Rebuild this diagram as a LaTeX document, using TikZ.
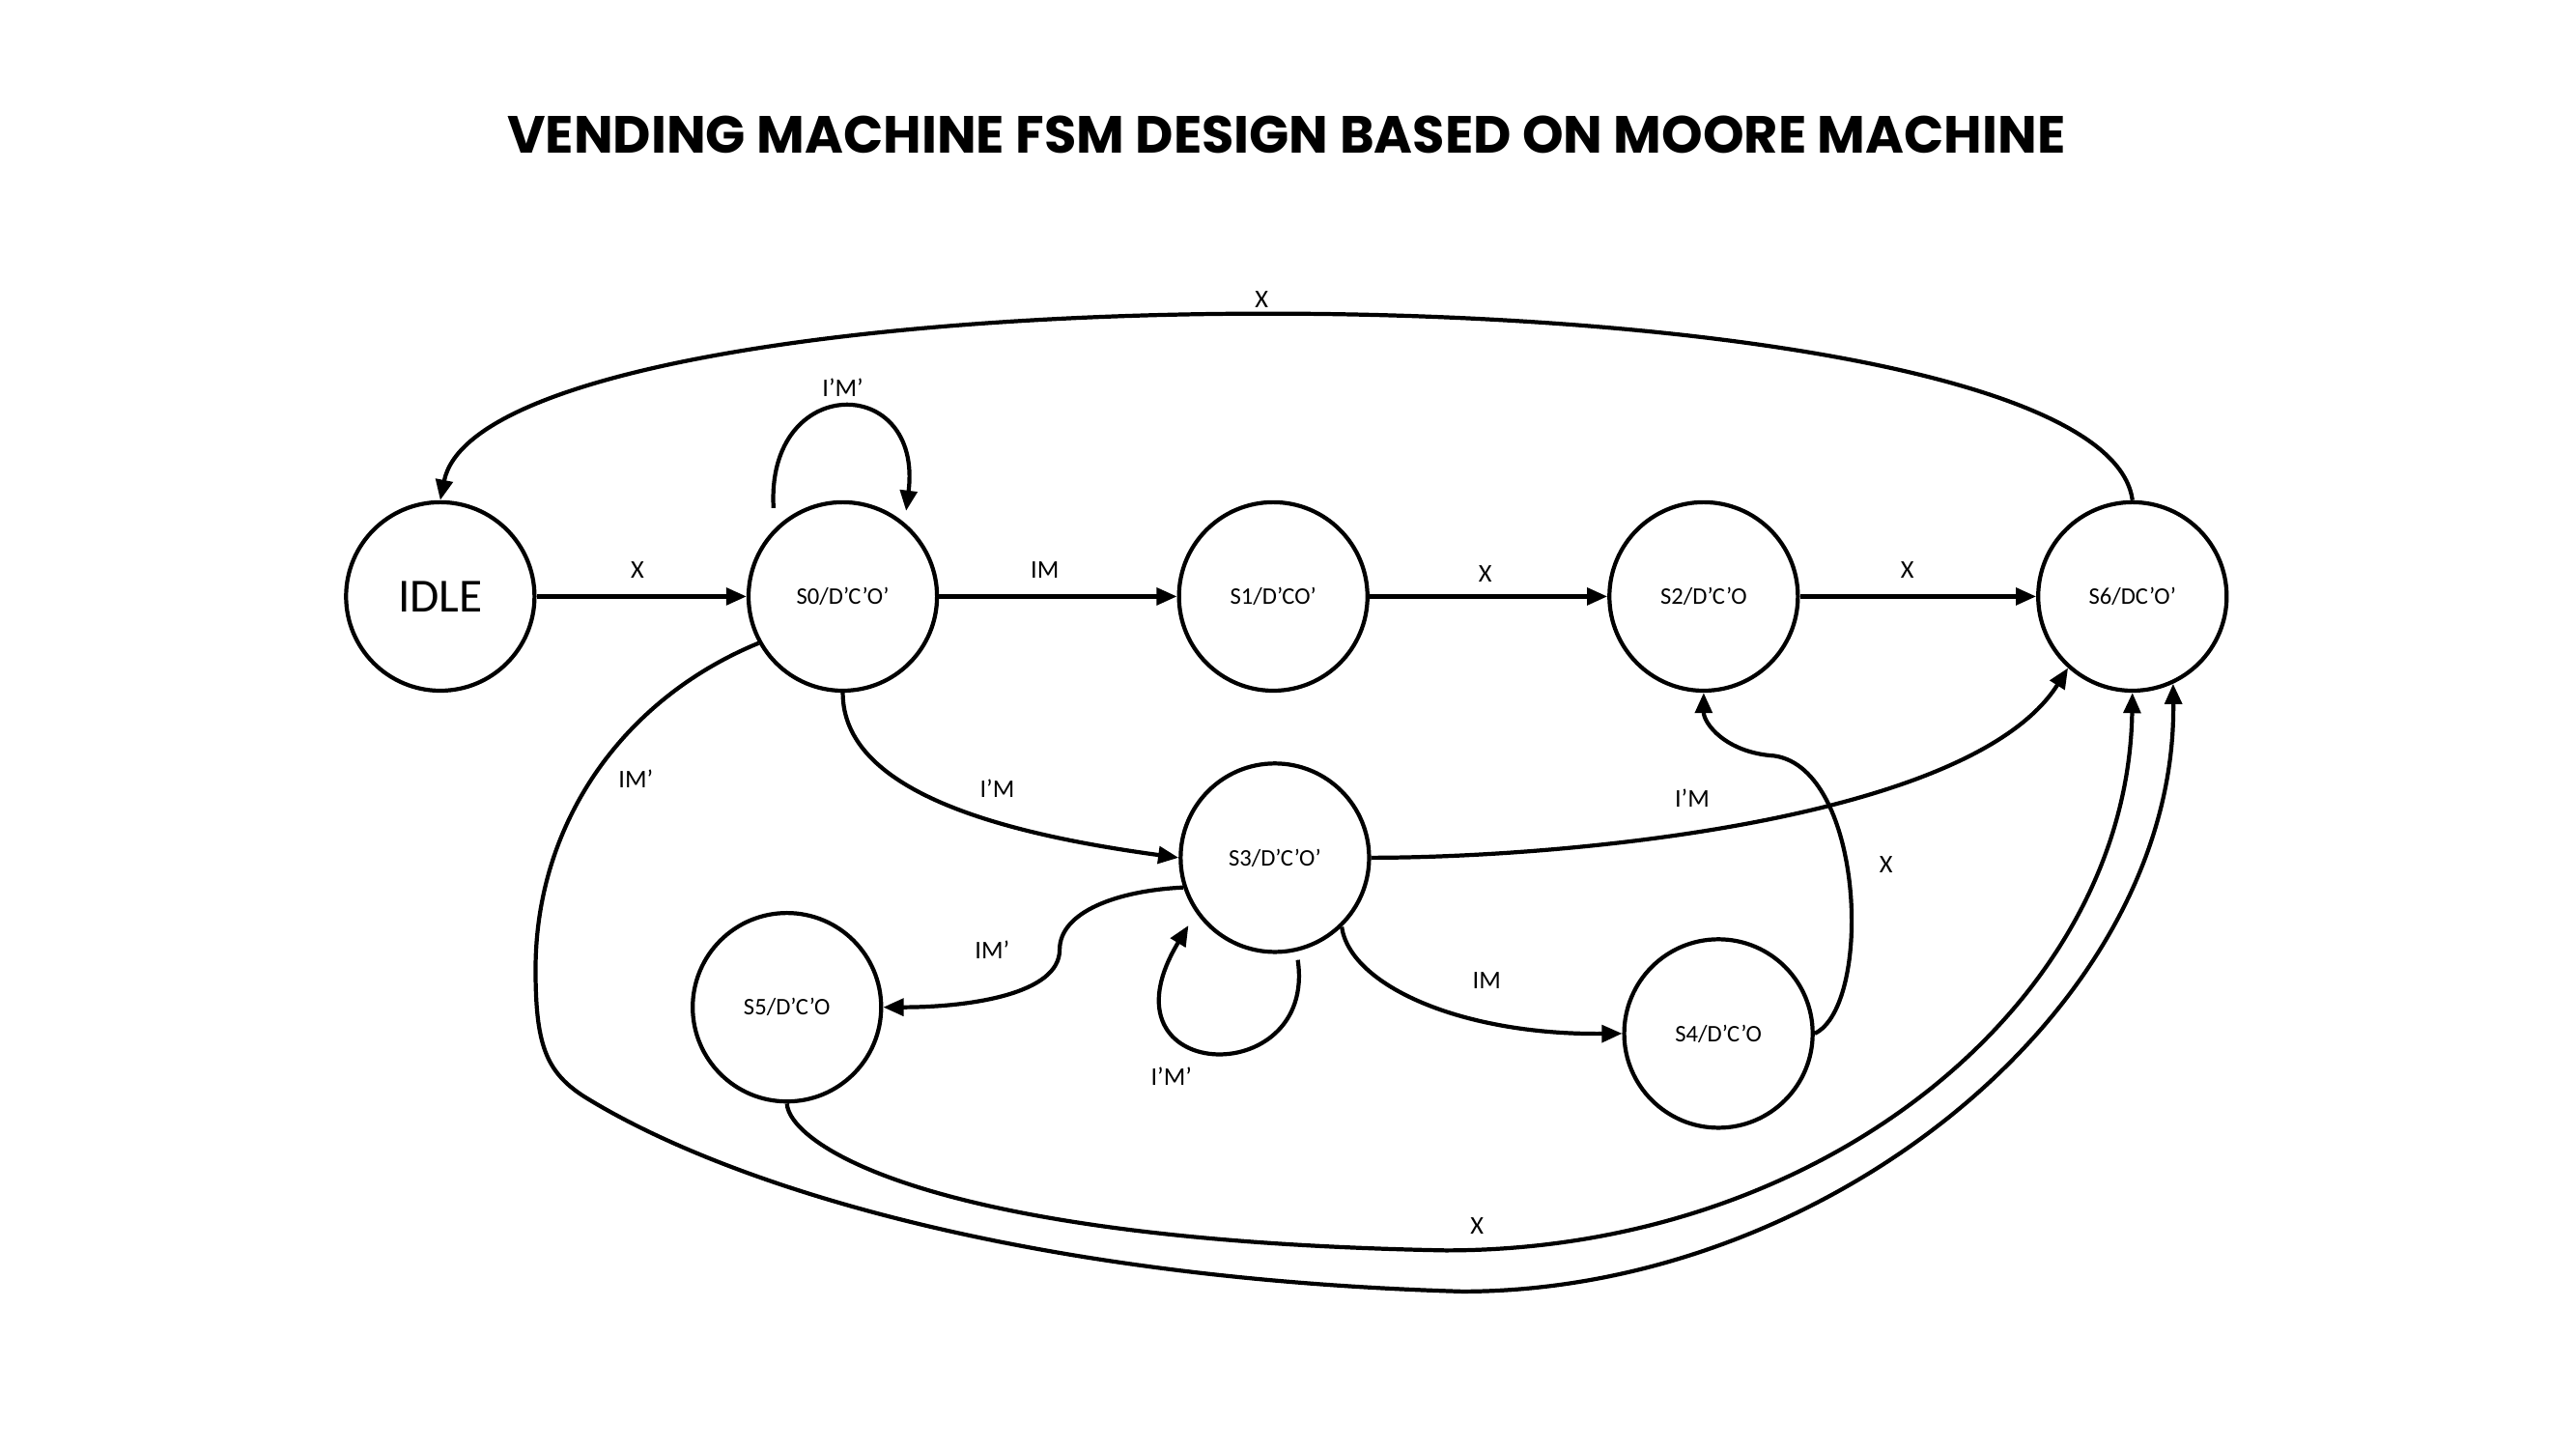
\documentclass[tikz,border=0pt]{standalone}
\usepackage{fontspec}
\setmainfont{Carlito}
\newfontfamily\titlefont{Poppins}
\usetikzlibrary{arrows.meta}
\tikzset{
  state/.style={circle,draw,line width=1.2pt,minimum size=1.95cm,inner sep=0pt,font=\fontsize{7}{8}\selectfont},
  lbl/.style={font=\fontsize{7.5}{9}\selectfont,inner sep=0pt},
  trans/.style={line width=1.2pt,-{Triangle[length=6pt,width=5pt]}}
}
\begin{document}
\begin{tikzpicture}[x=0.017cm,y=-0.017cm]
\useasboundingbox (0,0) rectangle (1568,882);
\node[font=\titlefont\bfseries\fontsize{15.4}{17}\selectfont] (title) at (783,82) {VENDING MACHINE FSM DESIGN BASED ON MOORE MACHINE};

% states
\node[state,font=\fontsize{14}{16}\selectfont] (idle) at (268,363) {IDLE};
\node[state] (s0) at (513,363) {S0/D’C’O’};
\node[state] (s1) at (775,363) {S1/D’CO’};
\node[state] (s2) at (1037,363) {S2/D’C’O};
\node[state] (s6) at (1298,363) {S6/DC’O’};
\node[state] (s3) at (776,522) {S3/D’C’O’};
\node[state] (s5) at (479,613) {S5/D’C’O};
\node[state] (s4) at (1046,629) {S4/D’C’O};

% top row
\draw[trans] (idle) -- (s0);
\draw[trans] (s0) -- (s1);
\draw[trans] (s1) -- (s2);
\draw[trans] (s2) -- (s6);
\node[lbl] (xidle) at (388,347) {X};
\node[lbl] (im01) at (636,347) {IM};
\node[lbl] (x12) at (904,349) {X};
\node[lbl] (x26) at (1161,347) {X};

% back to idle
\draw[trans] (s6.north) .. controls (1278,155) and (298,155) .. (idle.north);
\node[lbl] (x60) at (768,182) {X};

% self loops
\draw[trans,shorten <=6pt,shorten >=3.5pt] (s0.135) .. controls (466,227) and (562,227) .. (s0.50);
\node[lbl] (loop0) at (513,236) {I’M’};
\draw[trans,shorten <=2.5pt,shorten >=4.3pt] (s3.283) .. controls (802,665) and (665,660) .. (s3.215);
\node[lbl] (loop3) at (713,655) {I’M’};

% middle
\draw[trans] (s0.south) .. controls (513,481) and (607,507) .. (s3.west);
\node[lbl] (im03) at (607,480) {I’M};
\draw[trans] (s3.east) .. controls (950,522) and (1200,500) .. (s6.228);
\node[lbl] (im36) at (1030,486) {I’M};
\draw[trans] (s3.314) .. controls (822,600) and (890,630) .. (s4.west);
\node[lbl] (im34) at (905,597) {IM};
\draw[trans] (s3.198) .. controls (680,542) and (645,555) .. (645,578)
  .. controls (645,605) and (590,613) .. (s5.east);
\node[lbl] (im35) at (604,578) {IM’};
\draw[trans] (s4.east) .. controls (1140,612) and (1135,468) .. (1080,460)
  .. controls (1050,458) and (1037,440) .. (s2.south);
\node[lbl] (x42) at (1148,526) {X};

% bottom
\draw[trans] (s0.209) .. controls (380,425) and (326,500) .. (326,590)
  .. controls (326,635) and (332,652) .. (355,667)
  .. controls (440,720) and (620,778) .. (890,786)
  .. controls (1110,786) and (1325,615) .. (s6.295);
\node[lbl] (im06) at (387,474) {IM’};
\draw[trans] (s5.south) .. controls (480,695) and (560,755) .. (880,761)
  .. controls (1110,761) and (1295,610) .. (s6.south);
\node[lbl] (x56) at (899,746) {X};
\end{tikzpicture}
\end{document}
